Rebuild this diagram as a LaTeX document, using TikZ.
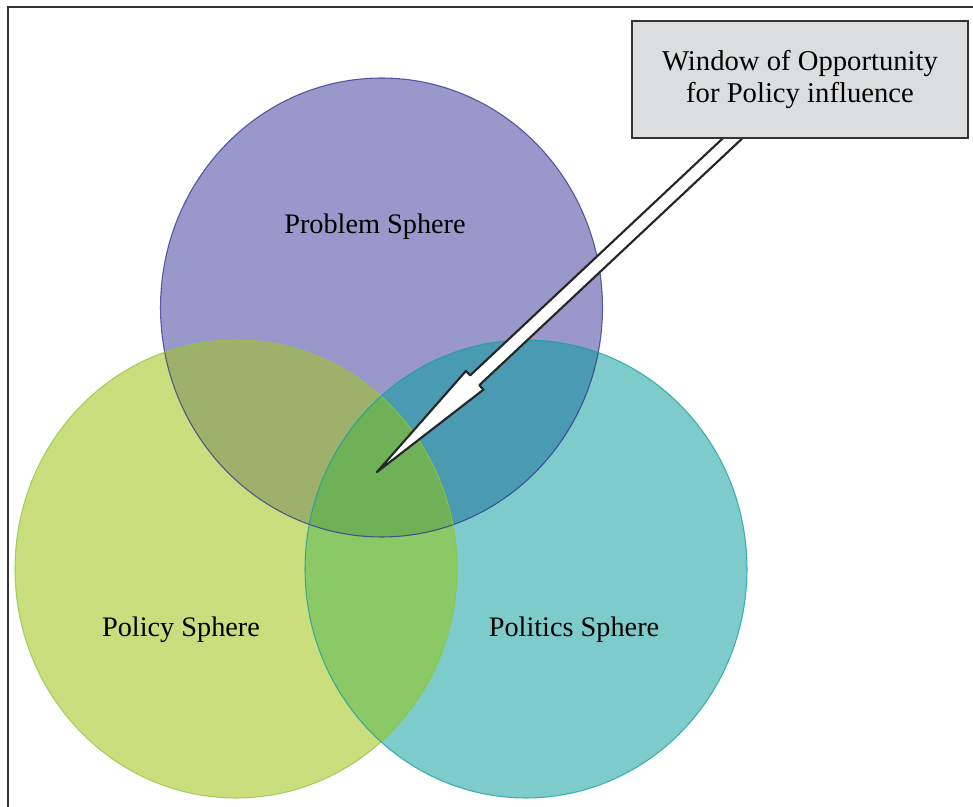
\documentclass[tikz,border=0pt]{standalone}
\usepackage{fontspec}
\setmainfont{Liberation Serif}
\usetikzlibrary{calc}

\definecolor{probFill}{HTML}{9A98CA}
\definecolor{probLine}{HTML}{2E3192}
\definecolor{polFill}{HTML}{CBDE7E}
\definecolor{polLine}{HTML}{8DC63F}
\definecolor{poliFill}{HTML}{7DCBCB}
\definecolor{poliLine}{HTML}{16A09E}
\definecolor{probPol}{HTML}{9DB16B}
\definecolor{probPoli}{HTML}{4A9AB1}
\definecolor{polPoli}{HTML}{8BC866}
\definecolor{allThree}{HTML}{6EB156}
\definecolor{boxFill}{HTML}{DCDDDE}
\definecolor{frameLine}{HTML}{333333}

\tikzset{
  x=0.75pt, y=0.75pt,
  label text/.style={font=\fontsize{21.2}{24}\selectfont, anchor=base, inner sep=0pt},
  rim/.style={line width=0.8pt, draw opacity=0.75},
  callout/.style={draw=frameLine, fill=boxFill, line width=1.5pt,
    minimum width=252pt, minimum height=87.75pt, align=center,
    font=\fontsize{21.5}{24.5}\selectfont},
  pointer/.style={draw=black!85, fill=white, line width=1.6pt, line join=round},
  frame/.style={draw=frameLine, line width=1.1pt}
}

% the three spheres
\def\probPath{(381.5,498.5) ellipse [x radius=221, y radius=229.5]}
\def\polPath{(236,237) ellipse [x radius=221, y radius=229]}
\def\poliPath{(526,237) ellipse [x radius=221, y radius=229]}

\begin{document}
\begin{tikzpicture}
\useasboundingbox (0,0) rectangle (973,806);

% outer frame (open to the right and bottom)
\draw[frame] (8,-2) -- (8,799) -- (975,799);

% sphere fills
\fill[probFill] \probPath;
\fill[polFill] \polPath;
\fill[poliFill] \poliPath;

% pairwise overlaps
\begin{scope}
  \clip \probPath;
  \fill[probPol] \polPath;
  \fill[probPoli] \poliPath;
\end{scope}
\begin{scope}
  \clip \polPath;
  \fill[polPoli] \poliPath;
\end{scope}
% common overlap of all three
\begin{scope}
  \clip \probPath;
  \clip \polPath;
  \fill[allThree] \poliPath;
\end{scope}

% sphere outlines
\draw[rim, probLine] \probPath;
\draw[rim, polLine] \polPath;
\draw[rim, poliLine] \poliPath;

% sphere labels
\node[label text] (prob) at (375,572) {Problem Sphere};
\node[label text] (pol) at (181,169) {Policy Sphere};
\node[label text] (poli) at (574,169) {Politics Sphere};

% callout arrow from the box into the common overlap
\coordinate (tip) at (377,334);
\coordinate (tail) at (750,684);
\draw[pointer] let \p1=($(tail)-(tip)$), \n1={atan2(\y1,\x1)} in
  (tip)
  -- ($(tip)+(\n1:134)+(\n1+90:12.8)$)
  -- ($(tip)+(\n1:134)+(\n1+90:6.7)$)
  -- ($(tail)+(\n1+90:6.7)$)
  -- ($(tail)+(\n1-90:6.7)$)
  -- ($(tip)+(\n1:134)+(\n1-90:6.7)$)
  -- ($(tip)+(\n1:134)+(\n1-90:12.8)$)
  -- cycle;

% callout box
\node[callout] (win) at (800,726.5) {Window of Opportunity\\for Policy influence};
\end{tikzpicture}
\end{document}
